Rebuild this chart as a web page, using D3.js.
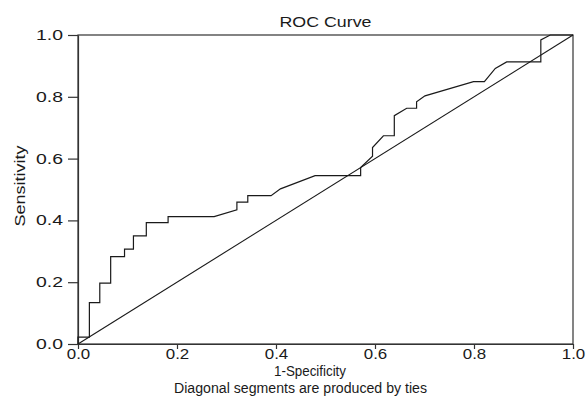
<!DOCTYPE html>
<html>
<head>
<meta charset="utf-8">
<script src="https://cdn.jsdelivr.net/npm/d3@7"></script>
<style>
  body { margin: 0; background: #fff; }
  svg text { font-family: "Liberation Sans", Arial, sans-serif; fill: #1a1a1a; }
</style>
</head>
<body>
<svg width="588" height="400"></svg>
<script>
// valeurs
let fpr = [0, 0, 0.023, 0.023, 0.044, 0.044, 0.066, 0.066, 0.094, 0.094, 0.112, 0.112,
    0.138, 0.138, 0.182, 0.182, 0.275, 0.321, 0.321, 0.343, 0.343, 0.390, 0.409, 0.479,
    0.571, 0.571, 0.595, 0.595, 0.617, 0.639, 0.639, 0.664, 0.684, 0.684, 0.701, 0.799,
    0.821, 0.843, 0.866, 0.935, 0.935, 0.954, 1];
let tpr = [0, 0.022, 0.022, 0.134, 0.134, 0.197, 0.197, 0.283, 0.283, 0.307, 0.307, 0.350,
    0.350, 0.393, 0.393, 0.412, 0.412, 0.434, 0.459, 0.459, 0.480, 0.480, 0.502, 0.545,
    0.545, 0.571, 0.608, 0.636, 0.674, 0.674, 0.739, 0.763, 0.763, 0.784, 0.803, 0.849,
    0.849, 0.892, 0.913, 0.913, 0.984, 1, 1];
let reference = [0, 1];
let ticks = [0, 0.2, 0.4, 0.6, 0.8, 1.0];

let svg = d3.select("svg");
let mLeft = 78, mRight = 573, mTop = 35, mBottom = 344;

let x = d3.scaleLinear().domain([0, 1]).range([mLeft, mRight]);
let y = d3.scaleLinear().domain([0, 1]).range([mBottom, mTop]);

// cadre
svg.append("rect")
    .attr("x", mLeft).attr("y", mTop)
    .attr("width", mRight - mLeft).attr("height", mBottom - mTop)
    .attr("fill", "none").attr("stroke", "#333").attr("stroke-width", 1.2);

// axe Y
let gy = svg.append("g")
    .attr("transform", `translate(${mLeft},0)`)
    .call(d3.axisLeft(y).tickValues(ticks).tickSize(10).tickSizeOuter(0)
        .tickPadding(5).tickFormat(d3.format(".1f")));
gy.selectAll("path, line").attr("stroke", "#333").attr("stroke-width", 1.2);
gy.selectAll("text")
    .style("font-size", "14px")
    .attr("textLength", 27).attr("lengthAdjust", "spacingAndGlyphs");

// axe X
let gx = svg.append("g")
    .attr("transform", `translate(0,${mBottom})`)
    .call(d3.axisBottom(x).tickValues(ticks).tickSize(5).tickSizeOuter(0)
        .tickPadding(0).tickFormat(d3.format(".1f")));
gx.selectAll("path, line").attr("stroke", "#333").attr("stroke-width", 1.2);
gx.selectAll("text")
    .style("font-size", "14px")
    .attr("textLength", 23.5).attr("lengthAdjust", "spacingAndGlyphs");

// diagonale
svg.append("line")
    .attr("x1", x(reference[0])).attr("y1", y(reference[0]))
    .attr("x2", x(reference[1])).attr("y2", y(reference[1]))
    .attr("stroke", "#1a1a1a").attr("stroke-width", 1.1);

// courbe ROC
let points = fpr.map((d, i) => [d, tpr[i]]);
svg.append("path")
    .datum(points)
    .attr("d", d3.line().x(d => x(d[0])).y(d => y(d[1])))
    .attr("fill", "none")
    .attr("stroke", "#1a1a1a")
    .attr("stroke-width", 1.2);

// textes
svg.append("text")
    .attr("x", 325.5).attr("y", 27)
    .attr("text-anchor", "middle")
    .style("font-size", "15px")
    .attr("textLength", 92).attr("lengthAdjust", "spacingAndGlyphs")
    .text("ROC Curve");

svg.append("text")
    .attr("transform", "translate(25,186) rotate(-90)")
    .attr("text-anchor", "middle")
    .style("font-size", "14px")
    .attr("textLength", 81).attr("lengthAdjust", "spacingAndGlyphs")
    .text("Sensitivity");

svg.append("text")
    .attr("x", 310).attr("y", 376)
    .attr("text-anchor", "middle")
    .style("font-size", "14px")
    .attr("textLength", 72).attr("lengthAdjust", "spacingAndGlyphs")
    .text("1-Specificity");

svg.append("text")
    .attr("x", 300.5).attr("y", 392.5)
    .attr("text-anchor", "middle")
    .style("font-size", "14px")
    .attr("textLength", 253).attr("lengthAdjust", "spacingAndGlyphs")
    .text("Diagonal segments are produced by ties");
</script>
</body>
</html>
